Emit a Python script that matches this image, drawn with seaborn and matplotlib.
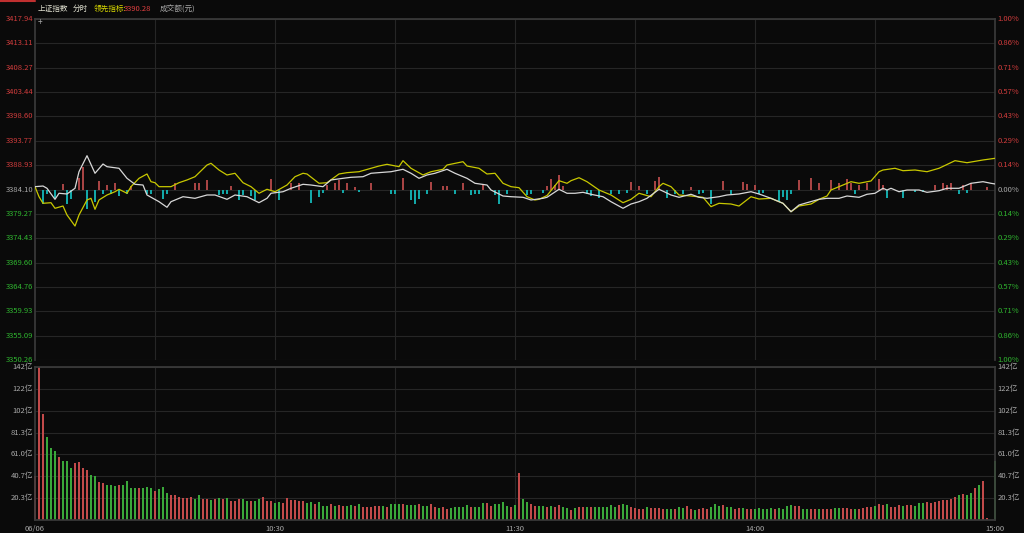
import numpy as np
import seaborn as sns
import matplotlib
matplotlib.use("Agg")
import matplotlib.pyplot as plt

# --- data (minute index 0 = 09:30, 240 = 15:00) ---
prev_close = 3384.10
lead_last = 3390.28

# index price (white line): (minute, price)
index_line = [
    (0, 3384.66), (2, 3384.79), (3, 3384.34), (5, 3382.15), (6, 3383.35), (8, 3383.21),
    (10, 3384.34), (11, 3387.63), (13, 3390.81), (15, 3387.32), (17, 3389.16), (18, 3388.63),
    (21, 3388.31), (23, 3386.32), (25, 3385.13), (27, 3384.99), (28, 3383.01), (31, 3381.68),
    (33, 3380.57), (34, 3381.68), (37, 3382.67), (40, 3382.35), (43, 3383.01), (45, 3383.01),
    (48, 3382.15), (50, 3383.01), (53, 3382.67), (56, 3381.48), (58, 3382.35), (59, 3383.35),
    (62, 3383.66), (64, 3384.34), (67, 3385.13), (69, 3384.99), (72, 3384.66), (74, 3385.99),
    (77, 3386.32), (79, 3386.52), (82, 3386.64), (84, 3387.32), (87, 3387.51), (89, 3387.63),
    (92, 3388.11), (94, 3387.32), (96, 3386.32), (98, 3386.98), (100, 3387.32), (103, 3388.11),
    (105, 3387.32), (108, 3386.32), (110, 3385.33), (113, 3384.99), (114, 3384.00), (117, 3382.81),
    (119, 3382.67), (122, 3382.55), (124, 3382.02), (127, 3382.35), (128, 3382.55), (131, 3384.14),
    (133, 3383.35), (135, 3383.35), (137, 3383.54), (139, 3383.15), (142, 3382.67), (144, 3381.68),
    (147, 3380.37), (149, 3381.22), (151, 3381.68), (153, 3382.35), (156, 3384.14), (159, 3383.01),
    (161, 3382.55), (164, 3383.15), (166, 3382.55), (168, 3382.35), (171, 3382.67), (173, 3383.01),
    (176, 3383.21), (179, 3383.66), (181, 3383.21), (184, 3382.35), (187, 3381.36), (189, 3379.69),
    (191, 3381.02), (193, 3381.48), (196, 3382.15), (198, 3382.35), (201, 3382.35), (203, 3382.81),
    (206, 3382.55), (208, 3383.15), (210, 3383.35), (212, 3384.34), (213, 3384.00), (214, 3384.34),
    (216, 3383.66), (218, 3384.00), (221, 3384.00), (223, 3383.54), (226, 3383.86), (228, 3384.34),
    (231, 3384.34), (234, 3385.33), (237, 3385.65), (239, 3385.33), (240, 3385.20),
]

# leading indicator (yellow line): (minute, value)
lead_line = [
    (0, 3384.66), (1, 3382.67), (2, 3381.36), (4, 3381.48), (5, 3380.37), (7, 3380.82),
    (8, 3379.04), (10, 3376.85), (11, 3379.04), (13, 3382.02), (14, 3382.35), (15, 3380.17),
    (16, 3382.02), (18, 3383.01), (20, 3383.66), (21, 3384.14), (23, 3383.35), (24, 3384.66),
    (26, 3386.32), (28, 3387.18), (29, 3385.65), (30, 3385.45), (31, 3384.66), (34, 3384.66),
    (36, 3385.45), (38, 3385.99), (40, 3386.64), (43, 3388.96), (44, 3389.30), (46, 3387.97),
    (48, 3386.98), (50, 3387.32), (52, 3385.45), (54, 3384.66), (56, 3383.35), (58, 3384.14),
    (60, 3383.66), (63, 3384.99), (65, 3386.64), (67, 3387.32), (68, 3387.18), (71, 3385.33),
    (73, 3385.45), (76, 3387.18), (78, 3387.44), (81, 3387.63), (84, 3388.31), (86, 3388.76),
    (88, 3389.10), (91, 3388.63), (92, 3389.82), (94, 3388.31), (97, 3386.98), (99, 3387.63),
    (102, 3388.11), (103, 3388.96), (107, 3389.62), (108, 3388.76), (111, 3388.31), (113, 3387.18),
    (115, 3387.32), (117, 3385.33), (119, 3384.66), (121, 3384.46), (123, 3382.67), (125, 3382.02),
    (126, 3382.15), (128, 3382.90), (131, 3385.85), (133, 3385.33), (134, 3385.85), (136, 3386.44),
    (138, 3385.65), (141, 3384.00), (144, 3383.01), (147, 3381.48), (149, 3382.15), (151, 3383.35),
    (154, 3382.67), (156, 3384.66), (157, 3385.33), (159, 3384.66), (161, 3383.01), (164, 3382.81),
    (167, 3382.55), (169, 3380.69), (171, 3381.36), (174, 3381.22), (176, 3380.82), (179, 3382.67),
    (181, 3382.21), (184, 3382.35), (186, 3381.68), (187, 3381.36), (189, 3379.69), (191, 3380.82),
    (194, 3381.22), (196, 3382.15), (198, 3382.81), (199, 3384.00), (202, 3384.99), (204, 3385.65),
    (206, 3385.33), (209, 3385.79), (211, 3387.63), (212, 3387.97), (215, 3388.31), (217, 3387.83),
    (220, 3387.97), (223, 3387.63), (226, 3388.31), (230, 3389.82), (233, 3389.42), (237, 3389.96),
    (240, 3390.29),
]

# buy/sell power bars around the previous close: (minute, points)
power_bars = [
    (2, -2.8), (3, -0.8), (5, -1.6), (7, 1.0), (8, -2.8), (9, -1.8), (11, 2.2), (12, 4.4),
    (13, -3.8), (15, -2.4), (16, 1.6), (17, -0.8), (18, 0.8), (19, -0.8), (20, 1.2), (21, -1.3),
    (23, -0.9), (24, 0.6), (28, -0.9), (29, -0.9), (32, -1.8), (33, -0.8), (35, 1.2), (40, 1.3),
    (41, 1.3), (43, 1.8), (46, -1.1), (47, -0.8), (48, -0.8), (49, 0.6), (51, -2.0), (52, -1.1),
    (54, -1.3), (55, -2.0), (59, 2.0), (61, -2.1), (64, 1.3), (66, 1.2), (69, -2.7), (71, -1.5),
    (72, -0.7), (73, 0.9), (75, 1.3), (76, 1.8), (77, -0.7), (78, 1.2), (80, 0.5), (81, -0.5),
    (84, 1.3), (89, -0.9), (90, -0.8), (92, 2.2), (94, -2.0), (95, -2.8), (96, -1.8), (98, -0.8),
    (99, 1.5), (102, 0.7), (103, 0.7), (105, -0.9), (107, 1.2), (109, -1.1), (110, -0.8),
    (111, -0.9), (112, 0.9), (115, -1.1), (116, -2.8), (118, -0.9), (123, -1.1), (124, -0.9),
    (127, -0.7), (128, 0.7), (129, 2.0), (130, 0.9), (131, 2.9), (132, 0.7), (138, -0.9),
    (139, -1.3), (141, -1.6), (144, -0.9), (146, -0.8), (148, -0.7), (149, 1.5), (151, 0.7),
    (153, -0.9), (155, 1.7), (156, 2.5), (158, -1.6), (160, -0.9), (162, -0.8), (164, 0.4),
    (166, -0.8), (167, -0.7), (169, -2.8), (172, 1.7), (174, -0.9), (177, 1.5), (178, 1.0),
    (180, 0.9), (181, -0.9), (182, -0.7), (186, -2.2), (187, -1.5), (188, -2.1), (189, -0.9),
    (191, 1.9), (194, 2.2), (196, 1.2), (199, 1.9), (201, 1.3), (203, 2.0), (204, 1.3),
    (205, -0.8), (206, 0.9), (208, 1.3), (211, 2.0), (212, 0.9), (213, -1.6), (217, -1.6),
    (220, -0.5), (222, -0.5), (225, 0.9), (227, 1.3), (228, 0.9), (229, 1.2), (231, -0.9),
    (232, 0.9), (233, -0.7), (234, 1.2), (238, 0.5),
]

# turnover per minute (亿元), with 'r' = up minute, 'g' = down minute
vol_open = [41, 142.3, 99, 77, 67, 64.5, 58.6, 55, 55, 48, 52.7, 54, 48.6, 46.5, 41.8, 40.8,
            35.5, 34.3, 32.7, 32.7, 31.2, 32.4, 32.4, 36.5, 29.9, 29.9, 29.6, 30.2, 30.6, 29.6,
            26.8, 28.7, 30.6, 24.9, 23.1, 23.1, 21.8, 20, 20, 21.2, 19.6, 23.7, 19.3, 19.3, 18.4,
            19.3, 20.3, 19.3, 20.3, 17.5, 18.1, 19.6, 19.3, 17.8, 17.5, 18.1, 19.6, 21.5, 17.5,
            17.5, 15.9, 16.5, 16.2, 20.3, 19, 19, 17.8, 17.5, 15.9, 16.5, 14.7, 16.8, 13.4, 13.4,
            15, 13.1, 14.3, 13.1, 13.4, 14, 13.1, 14.7]
col_open = ("rrrgggrggg" "rrrrggrrgg" "grggggrggg" "rgggrrrrrr" "ggrrgrgrgr"
            "rrggrggrrr" "ggrrrrrrgg" "rgggrgrrgg" "rg")
vol_late_am = [11.8, 11.8, 11.8, 13.1, 13.1, 13.1, 11.8, 14.7, 14.7, 14.7,
               15, 13.7, 13.7, 13.7, 14.7, 13.1, 13.1, 14.7, 11.8, 11.5,
               11.8, 10, 10.9, 11.8, 11.8, 12.5, 14, 11.8, 11.8, 12.5,
               15.9, 15.9, 13.1, 15, 15, 16.5, 13.1, 11.8, 14]
col_late_am = "rrrrrgrggg" "rgggrggrrg" "rrgggggrgg" "grrggggrg"
vol_pm_open = [43.7,
               19.6, 17.1, 14.7, 13.1, 13.1, 13.1, 11.8, 13.1, 11.8, 13.7,
               11.8, 11.2, 9.4, 10.9, 11.8, 11.8, 11.8, 11.8, 12.5, 11.8,
               12.5, 11.8, 13.7, 12.5, 13.7, 15, 13.7, 11.8, 10.9, 10.3]
col_pm_open = "r" "ggrrggrgrr" "ggrgrrgrgg" "ggggrggrrr"
vol_pm_close = [10.3, 12.2, 11.2, 11.5, 11.5, 10.3, 10.3, 10.3, 10, 11.8, 11.5, 13.1, 10.6, 9.7,
                10.6, 11.5, 10.6, 11.8, 15, 13.4, 14, 11.8, 11.8, 10.3, 10.9, 11.5, 10.3, 10.3,
                10.6, 11.5, 10, 10.3, 10.9, 10.6, 11.2, 10.3, 12.8, 14, 13.4, 13.4, 10.3, 10.6,
                10.6, 10.6, 10.3, 10, 10.3, 10.6, 10.9, 10.9, 11.2, 11.2, 10, 10.3, 10.3, 11.5,
                12.2, 11.8, 13.1, 15, 13.7, 15, 12.5, 12.5, 13.7, 13.1, 13.7, 13.7, 13.4, 15.9,
                15.9, 16.5, 15.9, 16.8, 17.5, 18.7, 18.7, 19.3, 21.5, 23.7, 24.3, 22.8, 25.3,
                29.3, 32.4, 36.5, 1.5, 0, 55]
col_pm_close = ("rgrrrrggrg" "grrgrrrggg" "rggrrgrrgg" "gggrggggrr" "ggrrgrrrgg"
                "rrrgrrrrgr" "rgrrrgrrgg" "grrrrrrrrg" "rggrgr" "rgg")

time_ticks = [0, 60, 120, 180, 240]
time_labels = ["06/06", "10:30", "11:30", "14:00", "15:00"]

# --- style ---
BG = "#0a0a0a"
GRID = "#262626"
RED = "#d03c3c"
GREEN = "#2fb52f"
GRAY = "#a8a8a8"
sns.set_theme(style="dark", rc={"axes.facecolor": BG, "figure.facecolor": BG,
                                "axes.edgecolor": "#3a3a3a", "axes.grid": False})
plt.rcParams["font.family"] = ["Noto Sans CJK SC", "DejaVu Sans"]
FS = 5.5

volume = vol_open + vol_late_am + vol_pm_open + vol_pm_close
vol_cols = col_open + col_late_am + col_pm_open + col_pm_close
assert len(volume) == 241 and len(vol_cols) == 241, (len(volume), len(vol_cols))
minutes = np.arange(len(volume))

fig = plt.figure(figsize=(10.24, 5.33), dpi=100)
W, H = 1024, 533
# 960 px wide plot area -> exactly 4 px per minute
ax = fig.add_axes([35 / W, 1 - 360 / H, 960 / W, 341 / H])
axv = fig.add_axes([35 / W, 1 - 520 / H, 960 / W, 153 / H])

# --- upper panel ---
step = prev_close * 0.01 / 7
price_ticks = [prev_close + k * step for k in range(7, -8, -1)]
ax.set_xlim(0, 240)
ax.set_ylim(price_ticks[-1], price_ticks[0])
for p in price_ticks:
    ax.axhline(p, color=GRID, lw=0.8, zorder=0)
for m in range(30, 240, 30):
    ax.axvline(m, color=GRID, lw=0.8, zorder=0)

pm, pv = zip(*power_bars)
pv = np.array(pv)
ax.bar(pm, pv, bottom=prev_close, width=0.5, linewidth=0,
       color=np.where(pv > 0, "#a84444", "#13a8a8"), zorder=1)

wx, wy = zip(*index_line)
lx, ly = zip(*lead_line)
sns.lineplot(x=list(lx), y=list(ly), ax=ax, color="#c8c800", lw=0.9, zorder=3)
sns.lineplot(x=list(wx), y=list(wy), ax=ax, color="#d8d8d8", lw=0.9, zorder=4)

ax.set_xticks([])
ax.set_yticks([])
ax.set_xlabel("")
ax.set_ylabel("")
for k, p in enumerate(price_ticks):
    col = RED if p > prev_close + 0.01 else (GREEN if p < prev_close - 0.01 else GRAY)
    pct = abs(p / prev_close - 1) * 100
    ax.text(-0.002, p, f"{p:.2f}", transform=ax.get_yaxis_transform(), ha="right",
            va="center", color=col, fontsize=FS, clip_on=False)
    ax.text(1.0025, p, f"{pct:.2f}%", transform=ax.get_yaxis_transform(), ha="left",
            va="center", color=col, fontsize=FS, clip_on=False)
ax.spines["bottom"].set_visible(False)

# --- volume panel ---
vmax = max(volume)
axv.set_xlim(0, 240)
axv.set_ylim(0, vmax)
vol_ticks = [vmax * k / 7 for k in range(1, 8)]
for v in vol_ticks:
    axv.axhline(v, color=GRID, lw=0.8, zorder=0)
for m in range(30, 240, 30):
    axv.axvline(m, color=GRID, lw=0.8, zorder=0)
axv.bar(minutes, volume, width=0.5, linewidth=0,
        color=["#c24a4a" if c == "r" else "#3aa83a" for c in vol_cols],
        zorder=2, clip_on=False)
axv.set_xticks([])
axv.set_yticks([])
for v in vol_ticks:
    lab = f"{v:.0f}亿" if v >= 100 else f"{v:.1f}亿"
    axv.text(-0.002, v, lab, transform=axv.get_yaxis_transform(), ha="right",
             va="center", color=GRAY, fontsize=FS, clip_on=False)
    axv.text(1.0025, v, lab, transform=axv.get_yaxis_transform(), ha="left",
             va="center", color=GRAY, fontsize=FS, clip_on=False)
for m, lab in zip(time_ticks, time_labels):
    axv.text(m, -0.035, lab, transform=axv.get_xaxis_transform(), ha="center",
             va="top", color=GRAY, fontsize=FS, clip_on=False)

# --- header ---
hy = 1 - 9 / H
fig.text(38 / W, hy, "上证指数", color="#e0e0d0", fontsize=FS, va="center")
fig.text(73 / W, hy, "分时", color="#e0e0d0", fontsize=FS, va="center")
fig.text(94 / W, hy, "领先指标:", color="#d8d800", fontsize=FS, va="center")
fig.text(124 / W, hy, f"{lead_last:.2f}", color="#e04040", fontsize=FS, va="center")
fig.text(160 / W, hy, "成交额(元)", color=GRAY, fontsize=FS, va="center")
fig.text(40 / W, 1 - 22 / H, "+", color=GRAY, fontsize=6, va="center", ha="center")
fig.add_artist(plt.Line2D([0, 35 / W], [1 - 1 / H, 1 - 1 / H], color="#c03030", lw=1.5))

fig.savefig("out.png", dpi=100, facecolor=BG)
